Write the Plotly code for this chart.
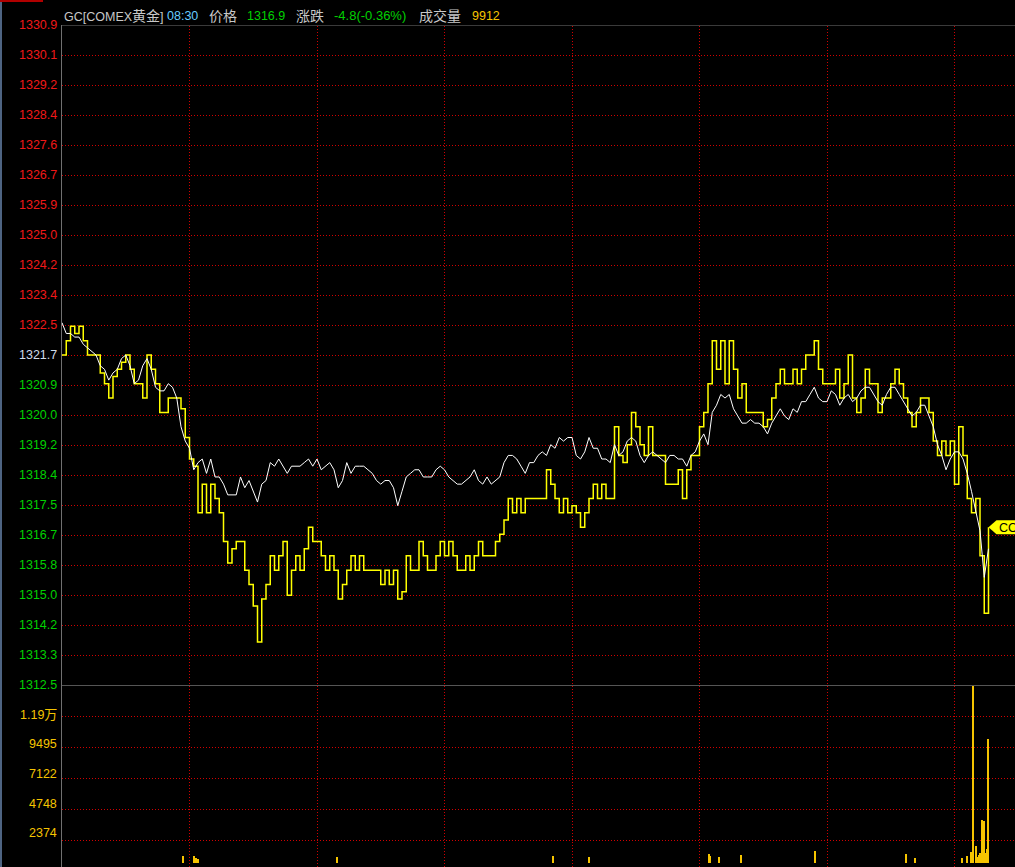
import plotly.graph_objects as go

# ---------------- data ----------------
prev_close = 1321.7
time_label = "08:30"
symbol_text = "GC[COMEX<span style='font-size:14px'>黄金</span>]"
callout_text = "COMEX黄金"

# last price (yellow), one sample every 4 time slots
price = [
    1321.7, 1322.1, 1322.5, 1322.3, 1322.5, 1322.1, 1321.7, 1321.7, 1321.7, 1321.2,
    1320.9, 1320.5, 1321.1, 1321.3, 1321.5, 1321.7, 1321.3, 1320.9, 1320.9, 1320.5,
    1321.7, 1321.3, 1320.9, 1320.1, 1320.1, 1320.5, 1320.5, 1320.5, 1320.2, 1319.4,
    1318.8, 1318.6, 1317.3, 1318.1, 1317.3, 1318.1, 1317.7, 1317.3, 1316.5, 1315.9,
    1316.3, 1316.5, 1316.5, 1315.7, 1315.3, 1314.7, 1313.7, 1314.9, 1315.3, 1316.1,
    1315.7, 1316.1, 1316.5, 1315.0, 1315.7, 1316.1, 1315.7, 1316.3, 1316.9, 1316.5,
    1316.5, 1316.1, 1315.7, 1316.1, 1315.7, 1314.9, 1315.3, 1315.7, 1316.1, 1315.7,
    1316.1, 1315.7, 1315.7, 1315.7, 1315.7, 1315.3, 1315.7, 1315.3, 1315.7, 1314.9,
    1315.1, 1316.1, 1315.7, 1315.7, 1316.5, 1316.1, 1315.7, 1315.7, 1316.1, 1316.5,
    1316.1, 1316.5, 1316.1, 1315.7, 1315.7, 1316.1, 1315.7, 1316.1, 1316.5, 1316.1,
    1316.1, 1316.1, 1316.5, 1316.7, 1317.1, 1317.7, 1317.3, 1317.7, 1317.3, 1317.7,
    1317.7, 1317.7, 1317.7, 1317.7, 1318.5, 1318.1, 1317.7, 1317.3, 1317.7, 1317.3,
    1317.5, 1317.3, 1316.9, 1317.3, 1317.7, 1318.1, 1317.7, 1318.1, 1317.7, 1317.7,
    1319.7, 1318.9, 1318.7, 1319.2, 1320.1, 1319.7, 1319.2, 1318.9, 1319.7, 1318.9,
    1318.9, 1318.9, 1318.1, 1318.1, 1318.1, 1318.5, 1317.7, 1318.5, 1318.9, 1318.9,
    1319.7, 1320.1, 1320.9, 1322.1, 1321.3, 1322.1, 1320.9, 1322.1, 1321.3, 1320.5,
    1320.9, 1320.1, 1320.1, 1320.1, 1320.1, 1319.7, 1319.9, 1320.5, 1320.9, 1321.3,
    1320.9, 1320.9, 1321.3, 1320.9, 1321.3, 1321.7, 1321.7, 1322.1, 1321.3, 1320.9,
    1320.9, 1320.9, 1321.3, 1320.5, 1320.9, 1321.7, 1320.5, 1320.1, 1320.5, 1321.3,
    1320.9, 1320.9, 1320.1, 1320.5, 1320.5, 1320.9, 1321.3, 1320.9, 1320.5, 1320.1,
    1319.7, 1320.1, 1320.5, 1320.5, 1320.1, 1319.3, 1318.9, 1319.3, 1318.9, 1319.3,
    1318.1, 1319.7, 1318.9, 1317.7, 1317.3, 1317.7, 1316.1, 1314.5, 1316.9,
]

# average price (white), same sampling
avg_price = [
    1322.6, 1322.3, 1322.3, 1322.2, 1322.2, 1322.0, 1321.9, 1321.8, 1321.7, 1321.4,
    1321.3, 1321.0, 1321.2, 1321.3, 1321.6, 1321.7, 1321.4, 1320.9, 1321.0, 1321.4,
    1321.6, 1321.3, 1320.8, 1320.7, 1320.7, 1320.9, 1320.8, 1320.5, 1319.7, 1319.3,
    1319.1, 1318.5, 1318.7, 1318.8, 1318.4, 1318.8, 1318.3, 1318.3, 1318.1, 1317.8,
    1317.8, 1317.8, 1318.3, 1318.0, 1318.2, 1317.9, 1317.6, 1318.1, 1318.2, 1318.7,
    1318.6, 1318.8, 1318.6, 1318.4, 1318.6, 1318.6, 1318.6, 1318.7, 1318.8, 1318.6,
    1318.8, 1318.5, 1318.6, 1318.7, 1318.5, 1318.0, 1318.2, 1318.7, 1318.4, 1318.6,
    1318.6, 1318.6, 1318.5, 1318.4, 1318.2, 1318.1, 1318.2, 1318.2, 1318.0, 1317.5,
    1317.9, 1318.3, 1318.4, 1318.5, 1318.5, 1318.3, 1318.3, 1318.3, 1318.5, 1318.6,
    1318.5, 1318.3, 1318.2, 1318.1, 1318.1, 1318.2, 1318.3, 1318.5, 1318.2, 1318.1,
    1318.3, 1318.1, 1318.2, 1318.3, 1318.7, 1318.9, 1318.9, 1318.8, 1318.6, 1318.4,
    1318.7, 1318.7, 1318.9, 1319.0, 1318.9, 1319.2, 1319.1, 1319.4, 1319.3, 1319.4,
    1319.4, 1318.9, 1318.8, 1319.0, 1319.4, 1319.1, 1319.1, 1318.8, 1318.8, 1318.7,
    1319.2, 1318.9, 1319.0, 1319.3, 1319.4, 1319.3, 1318.9, 1318.7, 1318.9, 1319.0,
    1318.9, 1318.8, 1318.7, 1318.9, 1318.9, 1318.8, 1318.8, 1318.6, 1318.9, 1319.0,
    1319.3, 1319.5, 1319.2, 1320.1, 1320.3, 1320.6, 1320.5, 1320.6, 1320.2, 1320.0,
    1319.8, 1319.8, 1319.9, 1319.8, 1319.8, 1319.7, 1319.5, 1319.8, 1320.0, 1320.2,
    1320.0, 1319.9, 1320.2, 1320.1, 1320.4, 1320.4, 1320.6, 1320.8, 1320.5, 1320.4,
    1320.4, 1320.7, 1320.6, 1320.3, 1320.5, 1320.6, 1320.4, 1320.5, 1320.7, 1320.8,
    1320.8, 1320.6, 1320.4, 1320.3, 1320.6, 1320.8, 1320.8, 1320.6, 1320.4, 1320.2,
    1320.0, 1320.1, 1320.3, 1320.3, 1320.0, 1319.7, 1319.2, 1318.9, 1318.5, 1318.8,
    1319.0, 1319.0, 1318.8, 1318.4, 1317.9, 1317.3, 1316.8, 1315.5, 1316.3,
]

# volume bars: time slot and volume
vol_slot = [114, 124, 126, 128, 259, 462, 496, 609, 610, 618, 639, 709, 794, 803,
            847, 852, 856, 857, 860, 862, 863, 864, 866, 867, 868, 869, 870, 871, 872]
vol_value = [610, 610, 400, 350, 460, 610, 460, 765, 610, 530, 690, 1000, 765, 380,
             380, 535, 920, 14243, 1380, 460, 690, 840, 3450, 1450, 3370, 840, 535, 1150, 9912]
vol_tick_labels = ["2374", "4748", "7122", "9495", "1.19<span style='font-size:13px'>万</span>"]

# ---------------- layout constants ----------------
W, H = 1015, 867
L = 62            # left margin (axis label column)
TOP = 25          # top of price panel (px)
DIV = 685         # divider between panels (px)
VOL_ZERO = 871    # pixel row of volume 0 (just below the window)
SAMPLE_STEP = 4   # slots per price sample
GRID_SLOTS = 120  # slots between vertical grid lines
PX_PER_SLOT = 127.5 / GRID_SLOTS
N_STEPS = 11      # price grid steps on each side of prev close

GRID_COLOR = "#D20000"
GRID_DASH = "1px,2px"
FONT_LATIN = "Liberation Sans, Arial, Noto Sans CJK SC"
UP_COLOR = "#F01818"
DOWN_COLOR = "#00D000"
EVEN_COLOR = "#D0DCEA"
VOL_COLOR = "#F5C400"
TEXT_GRAY = "#C8C8C8"

x_price = [i * SAMPLE_STEP for i in range(len(price))]
x_max = (W - L) / PX_PER_SLOT

price_half = 9.2
price_lo, price_hi = prev_close - price_half, prev_close + price_half
step = price_half / N_STEPS
price_levels = [prev_close + k * step for k in range(N_STEPS, -N_STEPS - 1, -1)]

vol_max = max(vol_value)
vol_per_px = vol_max / (VOL_ZERO - DIV)
vol_lo = -(VOL_ZERO - H) * vol_per_px
vol_ticks = [vol_max * k / 6 for k in range(1, 6)]

dom_split = 1 - DIV / H
dom_top = 1 - TOP / H
PW = W - L


def px_to_paper_x(px):
    return (px - L) / PW


def px_to_paper_y(py):
    return 1 - py / H


def crisp(v):
    return int(v) + 0.5


fig = go.Figure()
fig.add_trace(go.Scatter(x=x_price, y=price, mode="lines", line=dict(color="#FFFF00", width=1.5, shape="hv"),
                         xaxis="x", yaxis="y", hoverinfo="skip"))
fig.add_trace(go.Scatter(x=x_price, y=avg_price, mode="lines", line=dict(color="#FFFFFF", width=1),
                         xaxis="x", yaxis="y", hoverinfo="skip"))
fig.add_trace(go.Bar(x=vol_slot, y=vol_value, width=1.0, marker=dict(color=VOL_COLOR, line=dict(width=0)),
                     xaxis="x2", yaxis="y2", hoverinfo="skip"))

axis_common = dict(showline=False, zeroline=False, showticklabels=False, ticks="", showgrid=False)

fig.update_layout(
    width=W, height=H,
    margin=dict(l=L, r=0, t=0, b=0),
    paper_bgcolor="#000000", plot_bgcolor="#000000",
    showlegend=False, bargap=0,
    xaxis=dict(range=[0, x_max], domain=[0, 1], anchor="y", **axis_common),
    xaxis2=dict(range=[0, x_max], domain=[0, 1], anchor="y2", matches="x", **axis_common),
    yaxis=dict(range=[price_lo, price_hi], domain=[dom_split, dom_top], **axis_common),
    yaxis2=dict(range=[vol_lo, vol_max], domain=[0, dom_split], **axis_common),
)

grid_line = dict(color=GRID_COLOR, width=1, dash=GRID_DASH)
shapes = []
# vertical grid (both panels), snapped to pixel centres
for k in range(1, 8):
    px = crisp(L + k * GRID_SLOTS * PX_PER_SLOT)
    shapes.append(dict(type="line", xref="paper", yref="paper", layer="below",
                       x0=px_to_paper_x(px), x1=px_to_paper_x(px), y0=0, y1=dom_top, line=grid_line))
# horizontal price grid
for v in price_levels[1:-1]:
    py = crisp(TOP + (price_hi - v) / (price_hi - price_lo) * (DIV - TOP) + 1e-6)
    shapes.append(dict(type="line", xref="paper", yref="paper", layer="below",
                       x0=0, x1=1, y0=px_to_paper_y(py), y1=px_to_paper_y(py), line=grid_line))
# horizontal volume grid
for v in vol_ticks:
    py = crisp(VOL_ZERO - v / vol_per_px + 1e-6)
    shapes.append(dict(type="line", xref="paper", yref="paper", layer="below",
                       x0=0, x1=1, y0=px_to_paper_y(py), y1=px_to_paper_y(py), line=grid_line))

shapes += [
    # top border and panel divider
    dict(type="line", xref="paper", yref="paper", x0=0, x1=1,
         y0=px_to_paper_y(TOP + 0.5), y1=px_to_paper_y(TOP + 0.5), line=dict(color="#3A3A3A", width=1)),
    dict(type="line", xref="paper", yref="paper", x0=0, x1=1,
         y0=px_to_paper_y(DIV + 0.5), y1=px_to_paper_y(DIV + 0.5), line=dict(color="#555555", width=1)),
    # left axis line
    dict(type="line", xref="paper", yref="paper", x0=px_to_paper_x(L - 0.5), x1=px_to_paper_x(L - 0.5),
         y0=0, y1=px_to_paper_y(TOP), line=dict(color="#707070", width=1)),
    # left window strip and small top-left bar
    dict(type="rect", xref="paper", yref="paper", x0=px_to_paper_x(0), x1=px_to_paper_x(2), y0=0, y1=1,
         fillcolor="#4E6482", line=dict(width=0)),
    dict(type="rect", xref="paper", yref="paper", x0=px_to_paper_x(0), x1=px_to_paper_x(43),
         y0=px_to_paper_y(2), y1=1, fillcolor="#B00000", line=dict(width=0)),
    # callout marker at last price
    dict(type="path", xref="x", yref="y", xsizemode="pixel", ysizemode="pixel",
         xanchor=x_price[-1], yanchor=price[-1],
         path="M 0 0 L 8 7 L 80 7 L 80 -7 L 8 -7 Z",
         fillcolor="#FFFF00", line=dict(width=0)),
]
fig.update_layout(shapes=shapes)

ann = []
# price axis labels
for v in price_levels:
    r = round(v, 1)
    if r > prev_close:
        c = UP_COLOR
    elif r < prev_close:
        c = DOWN_COLOR
    else:
        c = EVEN_COLOR
    ann.append(dict(x=0, y=v, xref="paper", yref="y", xanchor="right", yanchor="middle", xshift=-3,
                    text=f"{v:.1f}", showarrow=False, font=dict(family=FONT_LATIN, size=12.5, color=c)))
# volume axis labels
for v, t in zip(vol_ticks, vol_tick_labels):
    ann.append(dict(x=0, y=v, xref="paper", yref="y2", xanchor="right", yanchor="middle", xshift=-3,
                    text=t, showarrow=False, font=dict(family=FONT_LATIN, size=12.5, color=VOL_COLOR)))

# header
last = price[-1]
chg = last - prev_close
pct = chg / prev_close * 100
header = [
    (symbol_text, 62, TEXT_GRAY, 12.5),
    (time_label, 165, "#66CCFF", 12.5),
    ("价格", 207, TEXT_GRAY, 14),
    (f"{last:.1f}", 245, DOWN_COLOR if chg < 0 else UP_COLOR, 12.5),
    ("涨跌", 294, TEXT_GRAY, 14),
    (f"{chg:.1f}({pct:.2f}%)", 332, DOWN_COLOR if chg < 0 else UP_COLOR, 13),
    ("成交量", 417, TEXT_GRAY, 14),
    (f"{vol_value[-1]}", 470, VOL_COLOR, 12.5),
]
for txt, px, col, fs in header:
    ann.append(dict(x=px_to_paper_x(px), y=px_to_paper_y(15.5), xref="paper", yref="paper",
                    xanchor="left", yanchor="middle", text=txt, showarrow=False,
                    font=dict(family=FONT_LATIN, size=fs, color=col)))
# callout text
ann.append(dict(x=x_price[-1], y=price[-1], xref="x", yref="y", xanchor="left", yanchor="middle",
                xshift=8, text=callout_text, showarrow=False,
                font=dict(family=FONT_LATIN, size=12.5, color="#000000")))
fig.update_layout(annotations=ann)

fig.write_html("out.html", config={"displayModeBar": False},
               post_script="document.body.style.margin='0';document.body.style.overflow='hidden';")
